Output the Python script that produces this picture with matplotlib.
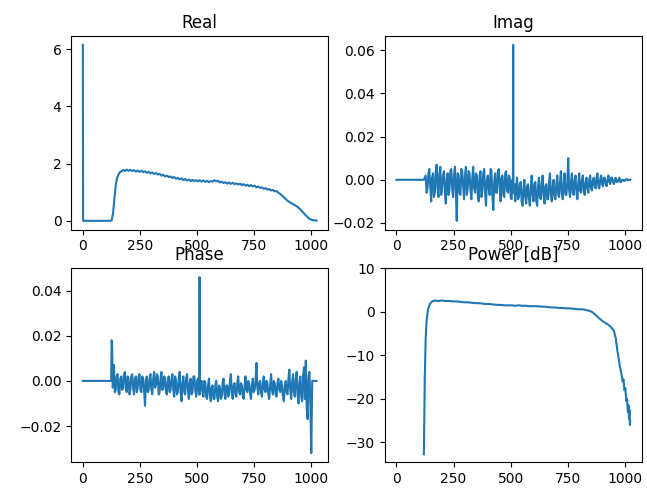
import matplotlib
matplotlib.use('Agg')
import matplotlib.pyplot as plt

# ---- Real part ----
real_x = [0, 1, 120, 126, 132, 138, 144, 150, 156, 162] + list(range(168, 1017, 8)) + [1023]
real_y = [6.15, 0, 0, 0.02, 0.25, 0.75, 1.25, 1.5, 1.62, 1.70,
          1.72, 1.78, 1.74, 1.79, 1.75, 1.78, 1.74, 1.77, 1.72, 1.76,
          1.71, 1.75, 1.70, 1.73, 1.68, 1.71, 1.66, 1.69, 1.64, 1.67,
          1.62, 1.64, 1.58, 1.61, 1.55, 1.58, 1.53, 1.55, 1.50, 1.53,
          1.47, 1.50, 1.45, 1.48, 1.42, 1.46, 1.41, 1.44, 1.39, 1.43,
          1.39, 1.42, 1.38, 1.42, 1.37, 1.41, 1.36, 1.40, 1.35, 1.39,
          1.37, 1.42, 1.38, 1.40, 1.34, 1.37, 1.32, 1.35, 1.30, 1.34,
          1.29, 1.33, 1.28, 1.31, 1.27, 1.30, 1.25, 1.28, 1.23, 1.26,
          1.21, 1.25, 1.20, 1.23, 1.17, 1.20, 1.15, 1.17, 1.12, 1.14,
          1.09, 1.11, 1.06, 1.08, 1.03, 1.04, 0.98, 0.94, 0.88, 0.82,
          0.76, 0.70, 0.66, 0.62, 0.58, 0.55, 0.51, 0.46, 0.40, 0.33,
          0.26, 0.19, 0.13, 0.07, 0.04, 0.02, 0.01,
          0.01]

# ---- Imaginary part ----
imag_x = [0, 120] + list(range(128, 509, 4)) + [510, 511, 512, 516] + list(range(520, 1021, 4)) + [1023]
imag_y = [0, 0,
          0.002, -0.006, -0.004, 0.003, 0.005, -0.003, -0.010, 0.001,
          0.003, -0.008, -0.006, 0.004, 0.007, -0.004, -0.008, 0.003,
          0.006, -0.007, -0.003, 0.002, 0.004, -0.006, -0.011, 0.000,
          0.003, -0.007, -0.005, 0.004, 0.005, -0.004, -0.008, 0.002,
          0.006, -0.005, -0.019, 0.003, 0.002, -0.006, -0.007, 0.005,
          0.004, -0.003, -0.009, 0.002, 0.006, -0.007, -0.004, 0.004,
          0.003, -0.005, -0.009, 0.001, 0.006, -0.004, -0.006, 0.003,
          0.002, -0.007, -0.010, 0.002, 0.004, -0.008, -0.005, 0.003,
          0.005, -0.006, -0.012, 0.000, 0.002, -0.004, -0.007, 0.005,
          0.004, -0.008, -0.014, -0.001, 0.003, -0.006, -0.006, 0.004,
          0.005, -0.003, -0.010, 0.001, 0.002, -0.007, -0.008, 0.003,
          0.004, -0.005, -0.006, 0.002, 0.001, -0.008, -0.009, 0.000,
          -0.004, 0.0625, -0.006, -0.002,
          -0.010, -0.003, 0.001, -0.009, -0.008, -0.002, -0.001, -0.010,
          -0.012, -0.004, 0.000, -0.008, -0.011, -0.003, -0.002, -0.009,
          -0.012, -0.004, 0.002, -0.007, -0.010, -0.002, -0.001, -0.010,
          -0.012, -0.003, 0.001, -0.008, -0.009, -0.002, 0.002, -0.007,
          -0.011, -0.003, -0.002, -0.009, -0.009, -0.001, 0.003, -0.007,
          -0.010, -0.003, 0.000, -0.008, -0.009, -0.002, 0.002, -0.007,
          -0.008, -0.001, 0.004, -0.006, -0.009, -0.002, 0.003, -0.007,
          -0.007, -0.001, 0.010, -0.005, -0.008, -0.001, 0.003, -0.006,
          -0.007, 0.000, 0.002, -0.006, -0.009, -0.002, 0.003, -0.005,
          -0.006, 0.000, 0.002, -0.005, -0.007, -0.001, 0.001, -0.004,
          -0.006, 0.000, 0.002, -0.004, -0.005, 0.000, 0.001, -0.003,
          -0.004, 0.001, 0.003, -0.003, -0.004, 0.000, 0.002, -0.002,
          -0.003, 0.001, 0.001, -0.002, -0.003, 0.000, 0.002, -0.001,
          -0.002, 0.001, 0.001, -0.001, -0.002, 0.000, 0.001, -0.001,
          -0.001, 0.000, 0.001, -0.001, -0.001, 0.000, 0.000, -0.0005,
          -0.0005, 0.0002, 0.0003, -0.0002, 0.000, 0.0001,
          0]

# ---- Phase ----
phase_x = [0, 124, 126, 128, 131] + list(range(136, 509, 4)) + [510, 511, 512, 516] + list(range(520, 997, 4)) + [1000, 1004, 1023]
phase_y = [0, 0, 0.018, 0.016, -0.003,
           0.007, -0.005, -0.004, 0.002, 0.003, -0.005, -0.006, 0.001,
           0.002, -0.004, -0.003, 0.003, 0.004, -0.003, -0.005, 0.002,
           0.001, -0.006, -0.004, 0.002, 0.003, -0.003, -0.006, 0.001,
           0.002, -0.005, -0.003, 0.002, 0.003, -0.004, -0.005, 0.002,
           0.001, -0.004, -0.011, 0.000, 0.002, -0.005, -0.004, 0.001,
           0.003, -0.004, -0.006, 0.001, 0.004, -0.003, -0.002, 0.003,
           0.002, -0.006, -0.005, 0.001, 0.004, -0.004, -0.003, 0.002,
           0.001, -0.005, -0.006, 0.000, 0.002, -0.005, -0.004, 0.001,
           0.003, -0.004, -0.007, 0.002, 0.000, -0.006, -0.005, 0.001,
           0.004, -0.005, -0.009, -0.001, 0.002, -0.005, -0.006, 0.001,
           0.003, -0.004, -0.008, -0.001, 0.001, -0.006, -0.005, 0.002,
           0.002, -0.004, -0.007, 0.000, 0.001, -0.006,
           -0.005, 0.046, -0.006, -0.001,
           0.000, -0.005, -0.007, 0.000, -0.001, -0.007, -0.008, -0.002,
           0.001, -0.006, -0.009, -0.003, -0.002, -0.008, -0.008, -0.002,
           0.000, -0.007, -0.009, -0.002, -0.003, -0.008, -0.007, -0.001,
           0.001, -0.006, -0.008, -0.002, -0.002, -0.007, -0.006, 0.000,
           0.003, -0.005, -0.008, -0.002, -0.001, -0.006, -0.007, -0.001,
           0.002, -0.005, -0.006, -0.001, -0.002, -0.007, -0.008, -0.002,
           0.002, -0.004, -0.005, 0.000, -0.001, -0.006, -0.008, -0.002,
           0.001, -0.005, -0.004, 0.000, 0.008, -0.003, -0.006, -0.001,
           0.000, -0.005, -0.007, -0.001, 0.002, -0.004, -0.005, 0.000,
           -0.001, -0.006, -0.008, -0.002, 0.003, -0.004, -0.006, 0.000,
           -0.001, -0.006, -0.007, -0.001, 0.001, -0.004, -0.005, 0.000,
           -0.002, -0.007, -0.009, -0.002, 0.000, -0.005, -0.006, 0.001,
           0.005, -0.004, -0.008, -0.001, 0.003, -0.005, -0.007, 0.001,
           0.004, -0.006, -0.010, -0.001, 0.002, -0.007, -0.009, 0.002,
           0.006, -0.008, 0.009, -0.012, -0.017, 0.002, 0.004, -0.010,
           -0.032, 0.0, 0.0]

# ---- Power ----
power_x = [120, 124, 128, 132, 138, 146, 154, 162] + list(range(168, 953, 16)) + \
          [960, 966, 972, 978, 984, 990, 994, 998, 1002, 1006, 1010, 1013, 1016, 1018, 1020, 1022, 1023]
power_y = [-32.7, -15.0, -6.0, -2.0, 0.5, 1.8, 2.3, 2.5,
           2.6, 2.5, 2.6, 2.5, 2.5, 2.4, 2.4, 2.3, 2.2, 2.2,
           2.1, 2.0, 2.0, 1.9, 1.8, 1.8, 1.7, 1.6, 1.6, 1.5,
           1.5, 1.5, 1.4, 1.5, 1.4, 1.4, 1.3, 1.3, 1.3, 1.2,
           1.2, 1.1, 1.0, 1.0, 0.9, 0.9, 0.8, 0.8, 0.7, 0.6,
           0.6, 0.5, 0.3, 0.0, -0.7, -1.5, -2.2, -2.7, -3.3, -4.4,
           -6.0, -8.5, -10.5, -12.5, -14.0, -16.0, -15.5, -18.0, -17.5, -20.5,
           -20.0, -23.0, -21.5, -24.5, -22.5, -26.0, -25.0]

fig, axs = plt.subplots(2, 2, figsize=(6.47, 4.94), dpi=100)
fig.subplots_adjust(left=0.11, right=0.992, top=0.927, bottom=0.065, wspace=0.22, hspace=0.2)

axs[0, 0].plot(real_x, real_y)
axs[0, 0].set_title('Real')
axs[0, 1].plot(imag_x, imag_y)
axs[0, 1].set_title('Imag')
axs[1, 0].plot(phase_x, phase_y)
axs[1, 0].set_title('Phase')
axs[1, 1].plot(power_x, power_y)
axs[1, 1].set_title('Power [dB]')
axs[1, 1].set_ylim(top=10)
# power is undefined below bin 120, but the axis spans all 1024 bins like the others
axs[1, 1].set_xlim(axs[0, 0].get_xlim())

for ax in axs.flat:
    ax.set_xticks([0, 250, 500, 750, 1000])

fig.savefig('out.png')
